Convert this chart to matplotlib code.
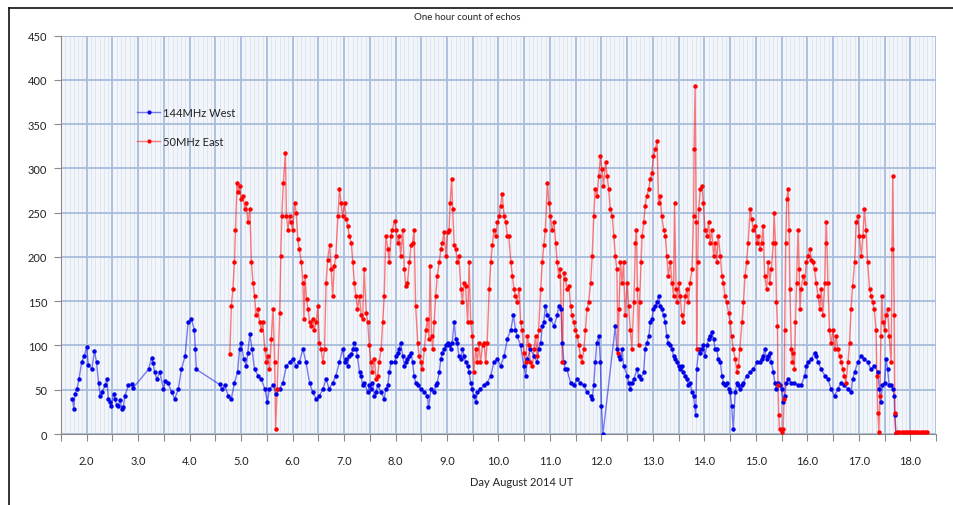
import matplotlib
matplotlib.use("Agg")

import numpy as np
import matplotlib.pyplot as plt
from matplotlib.lines import Line2D

# --- Data ---
# 144 MHz West, hourly echo count
west_day = [
    1.72, 1.75, 1.77, 1.81, 1.85, 1.90, 1.95, 2.00, 2.03, 2.10, 2.15, 2.19, 2.23, 2.26,
    2.30, 2.36, 2.39, 2.42, 2.45, 2.48, 2.52, 2.55, 2.58, 2.61, 2.65, 2.68, 2.71, 2.74,
    2.81, 2.87, 2.90,
    3.20, 3.26, 3.29, 3.32, 3.36, 3.42, 3.49, 3.53, 3.58, 3.65, 3.71, 3.78, 3.84, 3.91,
    3.97, 4.03, 4.09, 4.11, 4.13,
    4.58, 4.62, 4.68, 4.75, 4.81, 4.87, 4.93, 4.97, 5.00, 5.05, 5.10, 5.13, 5.17, 5.21,
    5.26, 5.33, 5.39, 5.46, 5.51, 5.55, 5.62, 5.68, 5.75, 5.81, 5.88, 5.94, 6.00, 6.07,
    6.13, 6.20, 6.26, 6.33, 6.39, 6.46, 6.52, 6.59, 6.65, 6.71, 6.78, 6.84, 6.91, 6.97,
    7.01, 7.04, 7.07, 7.10, 7.14, 7.17, 7.20, 7.23, 7.26, 7.30, 7.33, 7.36, 7.39, 7.46,
    7.49, 7.52, 7.55, 7.59, 7.62, 7.65, 7.72, 7.78, 7.81, 7.85, 7.88, 7.91, 7.98, 8.01,
    8.04, 8.07, 8.10, 8.14, 8.17, 8.20, 8.23, 8.27, 8.30, 8.33, 8.36, 8.39, 8.43, 8.49,
    8.56, 8.62, 8.64, 8.69, 8.75, 8.78, 8.81, 8.85, 8.88, 8.91, 8.94, 8.98, 9.01, 9.04,
    9.07, 9.10, 9.14, 9.17, 9.20, 9.23, 9.27, 9.30, 9.33, 9.36, 9.40, 9.43, 9.46, 9.49,
    9.52, 9.56, 9.59, 9.65, 9.72, 9.78, 9.85, 9.91, 9.98, 10.04, 10.11, 10.17, 10.24,
    10.29, 10.33, 10.36, 10.43, 10.49, 10.53, 10.56, 10.62, 10.69, 10.75, 10.78, 10.82,
    10.85, 10.88, 10.91, 10.95, 11.01, 11.08, 11.14, 11.17, 11.22, 11.24, 11.27, 11.30,
    11.33, 11.40, 11.46, 11.53, 11.59, 11.66, 11.72, 11.79, 11.82, 11.85, 11.88, 11.91,
    11.95, 11.98, 12.00, 12.03,
    12.27, 12.30, 12.34, 12.37, 12.40, 12.43, 12.50, 12.53, 12.56, 12.59, 12.63, 12.69,
    12.72, 12.76, 12.82, 12.85, 12.88, 12.92, 12.95, 12.98, 13.01, 13.05, 13.08, 13.11,
    13.14, 13.17, 13.21, 13.24, 13.27, 13.30, 13.34, 13.37, 13.40, 13.43, 13.47, 13.50,
    13.53, 13.56, 13.59, 13.63, 13.66, 13.69, 13.72, 13.76, 13.79, 13.81, 13.83, 13.85,
    13.89, 13.92, 13.95, 13.98, 14.01, 14.05, 14.08, 14.11, 14.14, 14.18, 14.21, 14.24,
    14.27, 14.31, 14.34, 14.37, 14.40, 14.43, 14.47, 14.50, 14.53, 14.56, 14.60, 14.63,
    14.66, 14.69, 14.73, 14.76, 14.82, 14.89, 14.95, 15.02, 15.08, 15.11, 15.14, 15.17,
    15.21, 15.24, 15.27, 15.30, 15.34, 15.37, 15.40, 15.43, 15.46, 15.50, 15.53, 15.56,
    15.59, 15.63, 15.69, 15.75, 15.82, 15.88, 15.95, 15.98, 16.01, 16.08, 16.14, 16.17,
    16.21, 16.27, 16.34, 16.40, 16.46, 16.53, 16.59, 16.66, 16.72, 16.79, 16.85, 16.88,
    16.92, 16.98, 17.05, 17.11, 17.17, 17.24, 17.30, 17.37, 17.40, 17.43, 17.46, 17.50,
    17.53, 17.56, 17.59, 17.63, 17.66, 17.69, 17.70, 17.72,
]
west_count = [
    40, 28, 45, 51, 62, 81, 88, 98, 78, 73, 94, 81, 58, 43,
    48, 55, 62, 40, 36, 32, 45, 40, 33, 32, 38, 28, 30, 43,
    55, 56, 52,
    73, 86, 80, 70, 62, 70, 51, 60, 58, 47, 40, 51, 73, 88,
    126, 130, 118, 96, 73,
    56, 51, 55, 43, 40, 58, 70, 96, 103, 85, 77, 92, 113, 96,
    73, 66, 62, 51, 36, 51, 55, 45, 51, 58, 77, 81, 85, 77,
    81, 96, 81, 58, 47, 40, 43, 51, 62, 51, 58, 66, 81, 96,
    81, 85, 77, 88, 90, 96, 103, 96, 88, 70, 66, 55, 58, 47,
    55, 51, 58, 43, 47, 55, 47, 40, 51, 55, 70, 81, 81, 88,
    92, 96, 103, 88, 77, 81, 85, 88, 92, 81, 66, 58, 55, 51,
    47, 43, 30, 51, 47, 55, 58, 70, 85, 92, 96, 100, 103, 100,
    96, 103, 126, 107, 103, 88, 85, 96, 88, 81, 77, 70, 58, 51,
    43, 36, 47, 51, 55, 58, 66, 81, 85, 77, 88, 107, 118,
    134, 118, 111, 100, 77, 66, 85, 96, 88, 81, 96, 103,
    122, 126, 145, 134, 130, 122, 134, 145, 141, 103, 81, 73,
    73, 58, 55, 62, 58, 55, 47, 43, 40, 55, 81, 103,
    111, 81, 32, 0,
    122, 96, 88, 85, 96, 77, 66, 58, 51, 58, 62, 73,
    66, 62, 70, 96, 103, 111, 126, 130, 141, 145, 149, 156,
    145, 141, 134, 126, 111, 103, 100, 96, 88, 85, 81, 77,
    73, 77, 70, 66, 62, 55, 58, 47, 43, 32, 21, 73,
    96, 92, 96, 100, 88, 100, 107, 111, 115, 107, 96, 96,
    85, 81, 66, 58, 55, 58, 51, 47, 32, 6, 47, 58,
    55, 51, 55, 58, 66, 70, 73, 81, 81, 85, 88, 96,
    85, 88, 92, 81, 70, 58, 51, 58, 55, 51, 36, 43,
    58, 62, 58, 58, 55, 55, 66, 77, 81, 85, 92, 88,
    81, 73, 66, 62, 51, 43, 51, 58, 55, 51, 47, 62,
    70, 81, 88, 85, 81, 73, 77, 70, 51, 36, 55, 58,
    85, 73, 55, 55, 51, 43, 21, 1,
]

# 50 MHz East, hourly echo count
east_day = [
    4.78, 4.81, 4.84, 4.87, 4.89, 4.92, 4.94, 4.97, 5.00, 5.04, 5.07, 5.10, 5.13, 5.17,
    5.20, 5.23, 5.26, 5.29, 5.33, 5.36, 5.39, 5.42, 5.46, 5.49, 5.52, 5.55, 5.585, 5.62,
    5.65, 5.67, 5.70, 5.75, 5.77, 5.79, 5.82, 5.86, 5.88, 5.91, 5.94, 5.97, 6.00, 6.04,
    6.07, 6.10, 6.13, 6.17, 6.20, 6.22, 6.24, 6.27, 6.30, 6.33, 6.36, 6.39, 6.42, 6.46,
    6.49, 6.52, 6.55, 6.59, 6.62, 6.65, 6.68, 6.72, 6.75, 6.78, 6.81, 6.84, 6.88, 6.91,
    6.94, 6.97, 7.01, 7.04, 7.07, 7.10, 7.14, 7.17, 7.20, 7.23, 7.26, 7.30, 7.33, 7.36,
    7.39, 7.43, 7.46, 7.49, 7.52, 7.55, 7.59, 7.62, 7.65, 7.68, 7.72, 7.75, 7.78, 7.81,
    7.85, 7.88, 7.91, 7.94, 7.98, 8.01, 8.04, 8.07, 8.10, 8.14, 8.17, 8.20, 8.23, 8.27,
    8.30, 8.33, 8.36, 8.39, 8.43, 8.46, 8.49, 8.52, 8.56, 8.59, 8.62, 8.65, 8.67, 8.70,
    8.72, 8.75, 8.78, 8.81, 8.85, 8.88, 8.91, 8.94, 8.98, 9.01, 9.04, 9.06, 9.09, 9.11,
    9.14, 9.17, 9.20, 9.23, 9.27, 9.30, 9.33, 9.36, 9.40, 9.43, 9.46, 9.49, 9.52, 9.56,
    9.59, 9.62, 9.65, 9.69, 9.72, 9.75, 9.78, 9.82, 9.85, 9.88, 9.91, 9.945, 9.98, 10.01,
    10.04, 10.07, 10.11, 10.14, 10.17, 10.20, 10.24, 10.27, 10.30, 10.33, 10.36, 10.40,
    10.43, 10.46, 10.49, 10.53, 10.56, 10.59, 10.62, 10.66, 10.69, 10.72, 10.75, 10.78,
    10.82, 10.85, 10.88, 10.91, 10.95, 10.98, 11.01, 11.04, 11.08, 11.11, 11.14, 11.17,
    11.20, 11.24, 11.27, 11.30, 11.33, 11.37, 11.40, 11.43, 11.46, 11.49, 11.53, 11.56,
    11.59, 11.62, 11.66, 11.69, 11.72, 11.75, 11.79, 11.82, 11.85, 11.88, 11.915, 11.95,
    11.98, 12.01, 12.04, 12.08, 12.11, 12.14, 12.17, 12.21, 12.24, 12.27, 12.30, 12.32,
    12.34, 12.37, 12.40, 12.43, 12.46, 12.50, 12.53, 12.56, 12.59, 12.63, 12.66, 12.68,
    12.70, 12.72, 12.74, 12.77, 12.79, 12.82, 12.85, 12.88, 12.92, 12.95, 12.98, 13.01,
    13.05, 13.08, 13.11, 13.14, 13.17, 13.21, 13.24, 13.27, 13.30, 13.34, 13.37, 13.40,
    13.42, 13.45, 13.47, 13.50, 13.53, 13.56, 13.59, 13.63, 13.66, 13.69, 13.72, 13.76,
    13.79, 13.80, 13.82, 13.84, 13.85, 13.87, 13.89, 13.92, 13.95, 13.98, 14.01, 14.05,
    14.08, 14.11, 14.14, 14.18, 14.21, 14.24, 14.27, 14.31, 14.34, 14.37, 14.40, 14.43,
    14.47, 14.50, 14.53, 14.56, 14.60, 14.63, 14.66, 14.69, 14.73, 14.76, 14.79, 14.82,
    14.85, 14.89, 14.92, 14.95, 14.98, 15.02, 15.05, 15.08, 15.11, 15.14, 15.17, 15.21,
    15.24, 15.27, 15.30, 15.34, 15.355, 15.38, 15.40, 15.42, 15.43, 15.445, 15.46, 15.50,
    15.53, 15.55, 15.56, 15.58, 15.60, 15.63, 15.645, 15.66, 15.69, 15.71, 15.73, 15.75,
    15.77, 15.79, 15.82, 15.84, 15.86, 15.88, 15.92, 15.95, 15.98, 16.01, 16.05, 16.08,
    16.11, 16.14, 16.17, 16.21, 16.24, 16.27, 16.30, 16.34, 16.355, 16.37, 16.40, 16.43,
    16.46, 16.50, 16.53, 16.56, 16.59, 16.63, 16.66, 16.69, 16.72, 16.75, 16.79, 16.82,
    16.85, 16.88, 16.92, 16.95, 16.98, 17.01, 17.05, 17.08, 17.11, 17.14, 17.17, 17.21,
    17.24, 17.27, 17.30, 17.335, 17.35, 17.37, 17.39, 17.41, 17.43, 17.45, 17.47, 17.50,
    17.53, 17.56, 17.59, 17.63, 17.645, 17.66, 17.69, 17.70, 17.72, 17.75, 17.79, 17.83,
    17.87, 17.91, 17.95, 17.99, 18.04, 18.08, 18.12, 18.16, 18.20, 18.24, 18.29, 18.33,
]
east_count = [
    90, 145, 164, 194, 231, 284, 273, 280, 265, 269, 254, 261, 239, 254,
    194, 171, 156, 134, 141, 126, 118, 126, 96, 81, 88, 73, 107, 141,
    81, 6, 51, 137, 201, 246, 284, 318, 246, 231, 246, 239, 231, 261,
    250, 220, 209, 194, 171, 130, 179, 152, 141, 126, 122, 130, 118, 126,
    145, 103, 96, 81, 96, 171, 197, 213, 186, 156, 190, 201, 246, 277,
    261, 246, 261, 243, 235, 224, 216, 194, 171, 156, 141, 156, 134, 130,
    186, 137, 126, 100, 81, 70, 85, 62, 66, 81, 96, 126, 156, 224,
    209, 194, 224, 231, 241, 231, 216, 224, 201, 231, 186, 167, 171, 194,
    213, 216, 231, 145, 103, 88, 81, 73, 96, 118, 130, 107, 190, 111,
    96, 126, 156, 179, 194, 209, 216, 228, 201, 228, 231, 261, 288, 254,
    213, 209, 194, 201, 164, 149, 171, 167, 126, 194, 126, 111, 70, 96,
    81, 103, 81, 100, 103, 81, 103, 164, 194, 213, 231, 224, 239, 246,
    258, 271, 246, 239, 224, 224, 194, 179, 164, 156, 149, 164,
    126, 118, 92, 81, 111, 100, 81, 77, 96, 111, 88, 118,
    164, 194, 213, 231, 284, 261, 246, 231, 239, 216, 194, 179,
    186, 81, 182, 175, 164, 167, 145, 134, 126, 118, 111, 100,
    88, 81, 96, 118, 141, 149, 171, 201, 246, 277, 269, 292,
    314, 299, 280, 307, 292, 277, 254, 246, 224, 201, 186, 92,
    141, 194, 171, 194, 134, 171, 145, 118, 96, 149, 216, 231,
    164, 100, 149, 194, 224, 239, 258, 269, 277, 288, 295, 314,
    322, 331, 261, 269, 246, 231, 224, 201, 179, 194, 171, 156,
    261, 164, 149, 171, 156, 134, 126, 156, 164, 149, 171, 186,
    246, 322, 393, 239, 96, 194, 254, 277, 280, 261, 231, 224,
    239, 216, 231, 201, 216, 194, 224, 201, 179, 171, 156, 149,
    137, 126, 111, 96, 85, 70, 77, 96, 126, 149, 179, 194,
    216, 254, 243, 231, 235, 216, 224, 209, 216, 235, 179, 164,
    194, 171, 186, 216, 250, 216, 149, 122, 55, 21, 6, 2,
    6, 40, 118, 216, 265, 277, 231, 164, 96, 81, 92, 73,
    126, 171, 231, 186, 141, 164, 179, 171, 194, 201, 209, 197,
    194, 186, 171, 156, 141, 164, 134, 171, 216, 239, 171, 118,
    103, 118, 96, 111, 96, 88, 81, 73, 66, 58, 81, 103,
    141, 167, 194, 239, 246, 224, 201, 224, 254, 231, 194, 164,
    156, 149, 141, 118, 66, 24, 2, 43, 111, 156, 126, 118,
    134, 141, 111, 81, 209, 292, 134, 24, 1, 2, 2, 2,
    2, 2, 2, 2, 2, 2, 2, 2, 2, 2, 2, 2,
]

SERIES_NAMES = ["144MHz West", "50MHz East"]
SERIES_COLORS = ["#0000e6", "#ff0000"]
Y_TICKS = [0, 50, 100, 150, 200, 250, 300, 350, 400, 450]
X_RANGE = (1.5, 18.5)

W, H = 954, 506
plt.rcParams["font.family"] = ["Lato", "DejaVu Sans"]

fig = plt.figure(figsize=(W / 100, H / 100), dpi=100)
ax = fig.add_axes([61 / W, 1 - 435 / H, (936 - 61) / W, (435 - 36.7) / H])
ax.set_facecolor("#f2f5fa")

# grid: dense light minor lines, stronger lines every half day / 50 counts
ax.set_xlim(*X_RANGE)
ax.set_ylim(0, 450)
major_x = np.arange(1.5, 18.51, 0.5)
ax.set_xticks(major_x)
ax.set_xticklabels([f"{v:.1f}" if abs(v - round(v)) < 1e-6 else "" for v in major_x])
ax.set_xticks(np.arange(1.5, 18.5, 1 / 12), minor=True)
ax.set_yticks(Y_TICKS)
ax.grid(which="major", color="#a7bddd", linewidth=1.3, zorder=0)
ax.grid(which="minor", axis="x", color="#dce4f0", linewidth=0.6, zorder=0)
ax.set_axisbelow(True)

ax.tick_params(axis="x", which="major", length=5, width=0.8, color="#8a8a8a",
               pad=10, labelsize=8, labelcolor="#222222")
ax.tick_params(axis="x", which="minor", length=0)
ax.tick_params(axis="y", length=5, width=0.8, color="#8a8a8a",
               pad=5, labelsize=8, labelcolor="#222222")
for side in ["top", "right"]:
    ax.spines[side].set_visible(False)
for side in ["left", "bottom"]:
    ax.spines[side].set_color("#8a8a8a")
    ax.spines[side].set_linewidth(0.8)

# series: pale connecting line + solid small markers
for xs, ys, c in [(west_day, west_count, SERIES_COLORS[0]),
                  (east_day, east_count, SERIES_COLORS[1])]:
    ax.plot(xs, ys, color=c, alpha=0.5, linewidth=1.0, zorder=3)
    ax.plot(xs, ys, linestyle="none", marker="o", markersize=3.2,
            color=c, markeredgewidth=0, zorder=4)

handles = []
for c in SERIES_COLORS:
    h = Line2D([], [], color=matplotlib.colors.to_rgba(c, 0.5), linewidth=1.0,
               marker="o", markersize=3.0, markerfacecolor=c, markeredgewidth=0)
    handles.append(h)
leg = ax.legend(handles, SERIES_NAMES, loc="upper left",
                bbox_to_anchor=(137 / W, 1 - 108 / H), bbox_transform=fig.transFigure,
                frameon=False, fontsize=8, handlelength=2.1, handletextpad=0.25,
                labelspacing=1.65, borderpad=0, borderaxespad=0)
for t in leg.get_texts():
    t.set_color("#222222")

fig.text(467 / W, 1 - 17 / H, "One hour count of echos", ha="center", va="center",
         fontsize=7, color="#222222")
fig.text(522 / W, 1 - 482 / H, "Day August 2014 UT", ha="center", va="center",
         fontsize=8, color="#222222")

# outer frame of the screenshot (top and left edges)
fig.add_artist(Line2D([9.5 / W, 1], [1 - 9 / H, 1 - 9 / H], color="#111111", linewidth=1.2))
fig.add_artist(Line2D([9.5 / W, 9.5 / W], [0, 1 - 9 / H], color="#111111", linewidth=1.2))

fig.savefig("out.png", dpi=100)
